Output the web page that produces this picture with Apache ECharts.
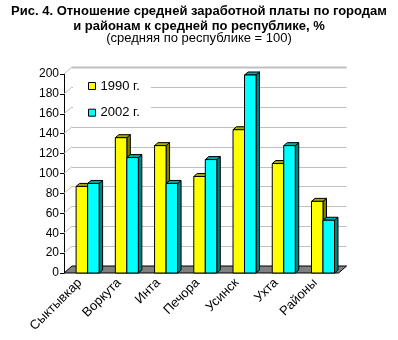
<!DOCTYPE html>
<html>
<head>
<meta charset="utf-8">
<script src="https://cdn.jsdelivr.net/npm/echarts@6/dist/echarts.min.js"></script>
<style>
  html, body { margin: 0; padding: 0; background: #fff; }
  #chart { width: 398px; height: 340px; }
</style>
</head>
<body>
<div id="chart"></div>
<script>
// Average wage by city / district relative to the republic average (%)
const categories = ['Сыктывкар', 'Воркута', 'Инта', 'Печора', 'Усинск', 'Ухта', 'Районы'];
const values1990 = [87, 136, 128, 97, 144, 110, 72];
const values2002 = [90, 116, 90, 114, 199, 128, 53];
const seriesNames = ['1990 г.', '2002 г.'];
const yTicks = [0, 20, 40, 60, 80, 100, 120, 140, 160, 180, 200];

const FONT = 'Arial, "Liberation Sans", sans-serif';
const WALL_DX = 8, WALL_DY = 7;     // depth of the floor / back wall
const BAR_W = 11.5, BAR_DX = 3.5, BAR_DY = 3; // bar front width and bar depth
const FRONT_SHIFT = 4;              // front plane sits left of the bar plane

const chart = echarts.init(document.getElementById('chart'));

function px(v) { return Math.round(v) + 0.5; }

// Back wall gridlines and the slanted tick connectors
function renderWall(params, api) {
  const cs = params.coordSys;
  const v = api.value(1);
  const y = api.coord([0, v])[1];
  const xl = cs.x - FRONT_SHIFT;
  const xr = cs.x + cs.width - FRONT_SHIFT;
  const children = [];
  if (v > 0) {
    children.push({
      type: 'line',
      shape: { x1: xl + WALL_DX, y1: px(y - WALL_DY), x2: xr + WALL_DX, y2: px(y - WALL_DY) },
      style: { stroke: '#c0c0c0', lineWidth: v === 200 ? 2 : 1 }
    });
    children.push({
      type: 'line',
      shape: { x1: xl, y1: y, x2: xl + WALL_DX, y2: y - WALL_DY },
      style: { stroke: '#c0c0c0', lineWidth: 1 }
    });
  }
  return { type: 'group', children: children };
}

// Grey floor under the bars
function renderFloor(params, api) {
  const cs = params.coordSys;
  const y = Math.round(api.coord([0, 0])[1]);
  const xl = cs.x - FRONT_SHIFT;
  const xr = cs.x + cs.width - FRONT_SHIFT;
  return {
    type: 'polygon',
    shape: { points: [[xl, y], [xr, y], [xr + WALL_DX, y - WALL_DY], [xl + WALL_DX, y - WALL_DY]] },
    style: { fill: '#808080', stroke: '#000', lineWidth: 1 }
  };
}

function barRenderer(side, front, topC, sideC) {
  return function (params, api) {
    const ci = api.value(0), v = api.value(1);
    const t = api.coord([ci, v]);
    const b = api.coord([ci, 0]);
    const x0 = side < 0 ? t[0] - BAR_W : t[0];
    const x1 = x0 + BAR_W;
    const yt = t[1], yb = b[1];
    const st = { stroke: '#000', lineWidth: 1, lineJoin: 'miter' };
    return {
      type: 'group',
      children: [
        { type: 'polygon', shape: { points: [[x1, yt], [x1 + BAR_DX, yt - BAR_DY], [x1 + BAR_DX, yb - BAR_DY], [x1, yb]] },
          style: Object.assign({ fill: sideC }, st) },
        { type: 'polygon', shape: { points: [[x0, yt], [x1, yt], [x1 + BAR_DX, yt - BAR_DY], [x0 + BAR_DX, yt - BAR_DY]] },
          style: Object.assign({ fill: topC }, st) },
        { type: 'rect', shape: { x: x0, y: yt, width: BAR_W, height: yb - yt },
          style: Object.assign({ fill: front }, st) }
      ]
    };
  };
}

const option = {
  animation: false,
  backgroundColor: '#fff',
  title: [
    {
      text: 'Рис. 4. Отношение средней заработной платы по городам\nи районам к средней по республике, %',
      left: 'center', top: 4, padding: 0,
      textStyle: { fontFamily: FONT, fontSize: 13, fontWeight: 'bold', color: '#000', lineHeight: 15 }
    },
    {
      text: '(средняя по республике = 100)',
      left: 'center', top: 31, padding: 0,
      textStyle: { fontFamily: FONT, fontSize: 13, fontWeight: 'normal', color: '#000', lineHeight: 14 }
    }
  ],
  legend: {
    orient: 'vertical',
    left: 73, top: 72,
    padding: [7, 11, 3, 15],
    itemWidth: 7, itemHeight: 7,
    itemGap: 12.7,
    backgroundColor: '#fff',
    textStyle: { fontFamily: FONT, fontSize: 13, color: '#000', lineHeight: 14 },
    data: [
      { name: seriesNames[0], icon: 'rect', itemStyle: { color: '#ffff00', borderColor: '#000', borderWidth: 1 } },
      { name: seriesNames[1], icon: 'rect', itemStyle: { color: '#00ffff', borderColor: '#000', borderWidth: 1 } }
    ]
  },
  grid: { left: 68, right: 55.4, top: 74, bottom: 67 },
  xAxis: {
    type: 'category',
    data: categories,
    axisLine: { show: false },
    axisTick: { show: false },
    axisLabel: { rotate: 45, margin: 0, padding: [0, 11, 0, 0], fontFamily: FONT, fontSize: 13, color: '#000', interval: 0 }
  },
  yAxis: {
    type: 'value',
    min: 0, max: 200, interval: 20,
    offset: FRONT_SHIFT,
    axisLine: { show: true, lineStyle: { color: '#000', width: 1 } },
    axisTick: { show: true, length: 4, lineStyle: { color: '#000' } },
    axisLabel: { fontFamily: FONT, fontSize: 12, color: '#000', margin: 5 },
    splitLine: { show: false }
  },
  series: [
    {
      type: 'custom', name: 'wall', silent: true, z: 1,
      renderItem: renderWall,
      data: yTicks.map(function (v) { return [0, v]; })
    },
    {
      type: 'custom', name: 'floor', silent: true, z: 1,
      renderItem: renderFloor,
      data: [[0, 0]]
    },
    {
      type: 'custom', name: seriesNames[0], z: 2,
      itemStyle: { color: '#ffff00' },
      renderItem: barRenderer(-1, '#ffff00', '#aaaa00', '#808000'),
      data: values1990.map(function (v, i) { return [i, v]; })
    },
    {
      type: 'custom', name: seriesNames[1], z: 3,
      itemStyle: { color: '#00ffff' },
      renderItem: barRenderer(1, '#00ffff', '#00aaaa', '#008080'),
      data: values2002.map(function (v, i) { return [i, v]; })
    }
  ]
};

chart.setOption(option);
</script>
</body>
</html>
